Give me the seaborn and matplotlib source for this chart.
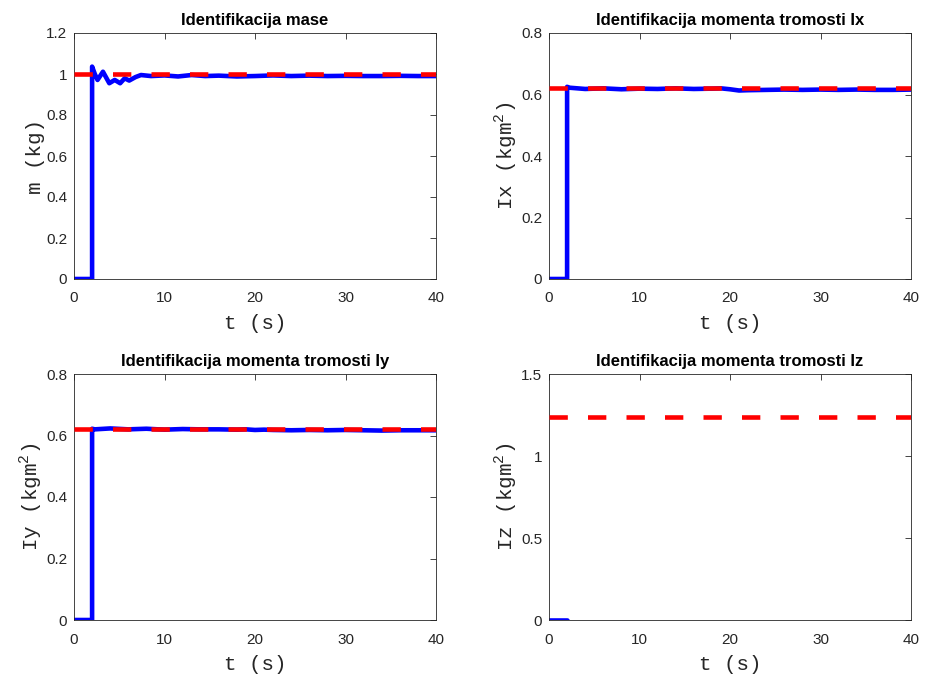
import numpy as np
import pandas as pd
import seaborn as sns
import matplotlib
matplotlib.use("Agg")
import matplotlib.pyplot as plt

sns.set_theme(style="white")
plt.rcParams['font.family'] = ['Liberation Sans', 'DejaVu Sans']

# ---------------- data ----------------
t_m = [0, 2, 2, 2.3, 2.6, 3.2, 3.9, 4.5, 5.1, 5.6, 6.1, 6.8, 7.4, 8.5, 10, 11.5,
       13, 14.5, 16, 18, 20, 22, 24, 26, 28, 30, 32, 34, 36, 38, 40]
m_est = [0, 0, 1.036, 1.0, 0.971, 1.011, 0.955, 0.971, 0.955, 0.979, 0.968, 0.985,
         0.995, 0.99, 0.993, 0.988, 0.995, 0.99, 0.992, 0.988, 0.99, 0.993, 0.99,
         0.992, 0.99, 0.991, 0.99, 0.99, 0.991, 0.99, 0.99]
m_true = 1.0

t_I = [0, 2, 2, 2.3, 4, 6, 8, 10, 12, 14, 16, 18, 19, 20, 21, 22, 24, 26, 28, 30,
       32, 34, 36, 38, 40]
Ix_est = [0, 0, 0.625, 0.622, 0.618, 0.62, 0.617, 0.619, 0.618, 0.62, 0.618, 0.619,
          0.62, 0.617, 0.613, 0.614, 0.615, 0.616, 0.615, 0.616, 0.615, 0.616, 0.615,
          0.615, 0.616]
Iy_est = [0, 0, 0.622, 0.62, 0.623, 0.62, 0.622, 0.619, 0.621, 0.62, 0.62, 0.619,
          0.62, 0.618, 0.619, 0.618, 0.617, 0.618, 0.617, 0.618, 0.617, 0.616, 0.617,
          0.617, 0.617]
Ix_true = 0.62
Iy_true = 0.62

t_z = [0, 2]
Iz_est = [0, 0]
Iz_true = 1.24

titles = ["Identifikacija mase", "Identifikacija momenta tromosti Ix",
          "Identifikacija momenta tromosti Iy", "Identifikacija momenta tromosti Iz"]
ylabels = ["m (kg)", r"Ix (kgm$^{\mathregular{2}}$)", r"Iy (kgm$^{\mathregular{2}}$)",
           r"Iz (kgm$^{\mathregular{2}}$)"]
xlabel = "t (s)"
xticks = [0, 10, 20, 30, 40]
yticks_list = [[0, 0.2, 0.4, 0.6, 0.8, 1, 1.2],
               [0, 0.2, 0.4, 0.6, 0.8],
               [0, 0.2, 0.4, 0.6, 0.8],
               [0, 0.5, 1, 1.5]]

series = [(t_m, m_est, m_true), (t_I, Ix_est, Ix_true),
          (t_I, Iy_est, Iy_true), (t_z, Iz_est, Iz_true)]

# ---------------- figure ----------------
W, H = 925, 679
fig = plt.figure(figsize=(W / 100, H / 100), dpi=100)

def rect(l, t, r, b):
    return [l / W, 1 - b / H, (r - l) / W, (b - t) / H]

rects = [rect(74, 33, 436, 279), rect(549, 33, 911, 279),
         rect(74, 374, 436, 620), rect(549, 374, 911, 620)]

dark = "#262626"
LW = 3.3
for i, (tt, est, true) in enumerate(series):
    ax = fig.add_axes(rects[i])
    df = pd.DataFrame({"t": tt, "v": est})
    sns.lineplot(data=df, x="t", y="v", ax=ax, color="#0000FF", lw=LW,
                 estimator=None, sort=False, zorder=2)
    dft = pd.DataFrame({"t": [0, 40], "v": [true, true]})
    sns.lineplot(data=dft, x="t", y="v", ax=ax, color="#FF0000", lw=LW,
                 estimator=None, sort=False, zorder=3)
    ax.lines[-1].set_dashes((4.0, 4.4))
    ax.lines[-1].set_dash_capstyle("butt")
    ax.set_xlim(0, 40)
    yt = yticks_list[i]
    ax.set_ylim(yt[0], yt[-1])
    ax.set_xticks(xticks)
    ax.set_xticklabels([f"{v:g}" for v in xticks])
    ax.set_yticks(yt)
    ax.set_yticklabels([f"{v:g}" for v in yt])
    ax.tick_params(direction="in", length=4, width=0.6, colors=dark,
                   labelsize=11, top=True, right=True)
    ax.tick_params(axis="y", pad=5)
    ax.tick_params(axis="x", pad=9)
    for s in ax.spines.values():
        s.set_color(dark)
        s.set_linewidth(0.6)
        s.set_visible(True)
    ax.set_title(titles[i], fontsize=12, fontweight="bold", color="black", pad=6,
                 family=["Liberation Sans", "DejaVu Sans"])
    ax.set_xlabel(xlabel, fontsize=15, color=dark, labelpad=6,
                  family=["Liberation Mono", "DejaVu Sans Mono"])
    ax.set_ylabel(ylabels[i], fontsize=15, color=dark, labelpad=1,
                  family=["Liberation Mono", "DejaVu Sans Mono"])

fig.savefig("out.png", dpi=100)
